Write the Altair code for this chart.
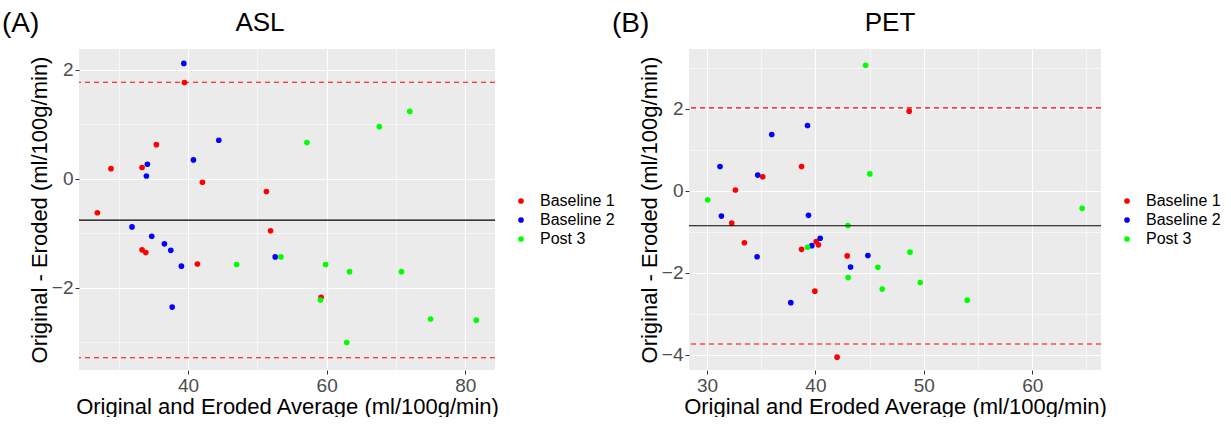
import altair as alt
import pandas as pd

FONT = "Liberation Sans"
groups = ["Baseline 1", "Baseline 2", "Post 3"]
colors = ["#FF0000", "#0000FF", "#00FF00"]

# ---- Panel A (ASL) ----
asl_b1_x = [39.47, 35.42, 28.87, 33.35, 42.07, 51.3, 26.9, 51.9, 33.35, 33.89, 41.34, 59.2]
asl_b1_y = [1.77, 0.63, 0.19, 0.21, -0.06, -0.23, -0.62, -0.95, -1.30, -1.35, -1.56, -2.17]
asl_b2_x = [39.38, 44.43, 34.12, 40.77, 33.98, 31.9, 34.75, 36.58, 37.5, 39.03, 52.57, 37.7]
asl_b2_y = [2.12, 0.71, 0.27, 0.35, 0.055, -0.88, -1.05, -1.19, -1.31, -1.60, -1.43, -2.35]
asl_p3_x = [47.0, 53.4, 57.15, 67.6, 72.0, 59.85, 63.3, 70.8, 59.1, 75.0, 81.6, 62.9]
asl_p3_y = [-1.57, -1.43, 0.67, 0.96, 1.24, -1.57, -1.70, -1.70, -2.22, -2.57, -2.59, -3.0]
asl_mean = [-0.755]
asl_limits = [1.774, -3.28]

# ---- Panel B (PET) ----
pet_b1_x = [38.72, 35.14, 32.62, 32.28, 40.07, 40.28, 33.45, 38.72, 42.93, 39.95, 42.0, 48.65]
pet_b1_y = [0.59, 0.34, 0.017, -0.79, -1.24, -1.32, -1.27, -1.43, -1.59, -2.45, -4.06, 1.94]
pet_b2_x = [39.27, 35.97, 31.2, 34.68, 31.33, 39.36, 40.44, 39.67, 34.62, 44.84, 43.24, 37.73]
pet_b2_y = [1.59, 1.37, 0.59, 0.38, -0.62, -0.60, -1.16, -1.34, -1.61, -1.58, -1.86, -2.73]
pet_p3_x = [44.63, 45.02, 30.06, 43.0, 39.27, 45.76, 43.02, 46.16, 64.6, 48.72, 49.67, 54.0]
pet_p3_y = [3.06, 0.41, -0.22, -0.85, -1.38, -1.87, -2.12, -2.40, -0.43, -1.50, -2.24, -2.67]
pet_mean = [-0.855]
pet_limits = [2.02, -3.74]

x_title = "Original and Eroded Average (ml/100g/min)"
y_title = "Original - Eroded (ml/100g/min)"


def make_df(xs, ys):
    rows = []
    for g, xl, yl in zip(groups, xs, ys):
        for a, d in zip(xl, yl):
            rows.append({"avg": a, "diff": d, "group": g})
    return pd.DataFrame(rows)


def cond(test, a, b):
    return {"condition": {"test": test, "value": a}, "value": b}


def panel(df, mean, limits, xdom, ydom, xvals, xmajor, yvals, ymajor,
          title, title_x, tag, legend_x, w, h):
    xt = f"abs(datum.value % {xmajor}) < 1e-6"
    yt = f"abs(datum.value % {ymajor}) < 1e-6"
    xaxis = alt.Axis(values=xvals, title=x_title, format="d",
                     labelExpr=f"{xt} ? datum.label : ''",
                     gridWidth=cond(xt, 1.1, 0.55),
                     tickColor=cond(xt, "#333333", "transparent"),
                     titleY=43, titleBaseline="alphabetic")
    yaxis = alt.Axis(values=yvals, title=y_title, format="d",
                     labelExpr=f"{yt} ? datum.label : ''",
                     gridWidth=cond(yt, 1.1, 0.55),
                     tickColor=cond(yt, "#333333", "transparent"),
                     titleX=-40, titleBaseline="middle")
    xs = alt.Scale(domain=xdom, nice=False, zero=False)
    ys = alt.Scale(domain=ydom, nice=False, zero=False)
    pts = alt.Chart(df).mark_circle(size=32, opacity=1).encode(
        x=alt.X("avg:Q", scale=xs, axis=xaxis),
        y=alt.Y("diff:Q", scale=ys, axis=yaxis),
        color=alt.Color("group:N", scale=alt.Scale(domain=groups, range=colors),
                        legend=alt.Legend(title=None, orient="none", legendX=legend_x,
                                          legendY=144, labelFontSize=16, labelFont=FONT,
                                          labelColor="#000000", symbolSize=32,
                                          symbolType="circle", labelOffset=11,
                                          rowPadding=3, padding=0)),
    )
    lim = alt.Chart(pd.DataFrame({"diff": limits})).mark_rule(
        color="#FF0000", strokeDash=[5, 4], strokeWidth=1.1
    ).encode(y=alt.Y("diff:Q", scale=ys, title=y_title))
    mn = alt.Chart(pd.DataFrame({"diff": mean})).mark_rule(
        color="#000000", strokeWidth=1.1
    ).encode(y=alt.Y("diff:Q", scale=ys, title=y_title))
    lab = alt.Chart(pd.DataFrame({"t": [tag]})).mark_text(
        align="left", baseline="middle", fontSize=28, font=FONT, color="#000000"
    ).encode(text="t:N", x=alt.value(-77), y=alt.value(-25))
    ttl = alt.Chart(pd.DataFrame({"t": [title]})).mark_text(
        align="center", baseline="middle", fontSize=26, font=FONT, color="#000000"
    ).encode(text="t:N", x=alt.value(title_x), y=alt.value(-26))
    return alt.layer(pts, lim, mn, lab, ttl).properties(width=w, height=h)


df_a = make_df([asl_b1_x, asl_b2_x, asl_p3_x], [asl_b1_y, asl_b2_y, asl_p3_y])
df_b = make_df([pet_b1_x, pet_b2_x, pet_p3_x], [pet_b1_y, pet_b2_y, pet_p3_y])

a = panel(df_a, asl_mean, asl_limits, [24.25, 84.3], [-3.505, 2.385],
          [30, 40, 50, 60, 70, 80], 20, [-3, -2, -1, 0, 1, 2], 2,
          "ASL", 181, "(A)", 434, 416, 321)
b = panel(df_b, pet_mean, pet_limits, [28.34, 66.34], [-4.373, 3.456],
          [30, 35, 40, 45, 50, 55, 60, 65], 10, [-4, -3, -2, -1, 0, 1, 2, 3], 2,
          "PET", 201, "(B)", 430, 412, 321)

chart = alt.hconcat(a, b, spacing=194, bounds="flush").resolve_scale(
    color="independent"
).resolve_legend(color="independent").configure(
    padding={"left": 2, "top": 10, "right": 0, "bottom": 0},
    background="#FFFFFF",
).configure_view(
    fill="#EBEBEB", strokeWidth=0
).configure_axis(
    labelFont=FONT, labelFontSize=19, labelColor="#4D4D4D",
    titleFont=FONT, titleFontSize=22, titleColor="#000000", titleFontWeight="normal",
    domain=False, tickSize=4, tickWidth=1, labelPadding=2,
    gridColor="#FFFFFF",
)

chart.save("out.html", embed_options={"renderer": "svg", "actions": False})
